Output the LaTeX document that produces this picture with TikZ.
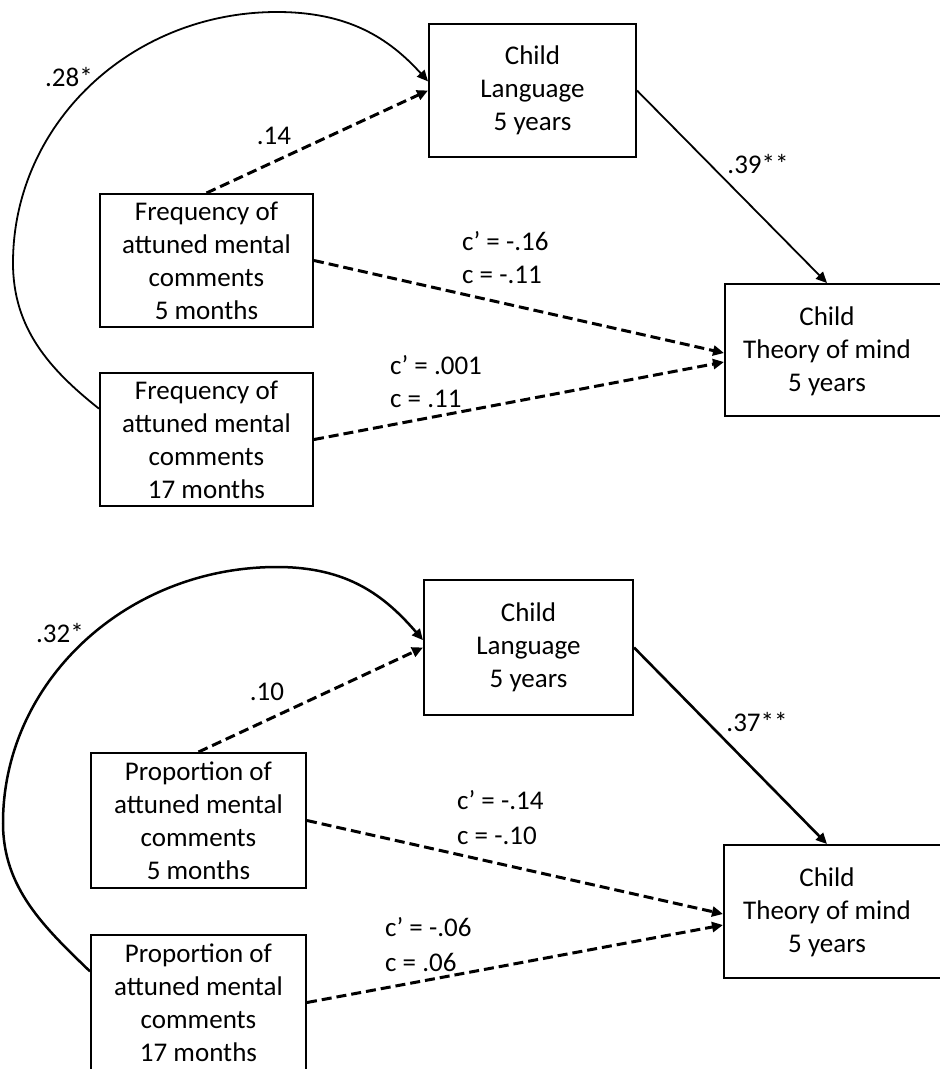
\documentclass[tikz,border=0pt]{standalone}
\usepackage{fontspec}
\setmainfont{Carlito}
\usetikzlibrary{arrows.meta,calc}
\begin{document}
\begin{tikzpicture}[x=1pt,y=-1pt,
  every node/.style={font=\fontsize{27}{33}\selectfont},
  box/.style={draw, line width=2pt, inner sep=0pt, align=center},
  lbl/.style={inner sep=0pt},
  tip/.style={-{Triangle[length=11pt,width=10pt]}},
  dashedarrow/.style={tip, line width=3pt, dash pattern=on 10pt off 5pt},
  solidarrow/.style={tip, line width=1.8pt},
  heavyarrow/.style={tip, line width=2.6pt},
  thincurve/.style={tip, line width=1.8pt},
  heavycurve/.style={tip, line width=2.5pt},
]
\useasboundingbox (0,0) rectangle (940,1069);
\clip (0,0) rectangle (940,1069);

% ---------- upper model: frequency ----------
\node[box, minimum width=207pt, minimum height=133pt] (lang1) at (532.5,90.5) {Child\\Language\\5 years};
\node[box, minimum width=213pt, minimum height=133pt] (f5) at (206.5,260.5) {Frequency of\\attuned mental\\comments\\5 months};
\node[box, minimum width=213pt, minimum height=133pt] (f17) at (206.5,439.5) {Frequency of\\attuned mental\\comments\\17 months};
\node[box, minimum width=300pt, minimum height=132pt, anchor=west] (tom1) at (724,350) {};
\node[lbl, align=center] (tom1txt) at (827,351.5) {Child\\Theory of mind\\5 years};

\draw[thincurve] (f17.164) .. controls (49,369) and (13,328) .. (13,263)
  .. controls (13,124) and (131,12) .. (277,12)
  .. controls (347,12) and (388,37) .. (lang1.175);
\draw[dashedarrow] (f5.north) -- (lang1.west);
\draw[solidarrow] (lang1.east) -- (tom1txt |- tom1.north);
\draw[dashedarrow] (f5.east) -- ($(tom1.west)+(0,3)$);
\draw[dashedarrow] (f17.east) -- ($(tom1.west)+(0,12)$);

\node[lbl] (r1) at (69,77) {.28*};
\node[lbl] (a1) at (274,136) {.14};
\node[lbl] (b1) at (758,164) {.39**};
\node[lbl, align=left, anchor=west] (c1) at (462,258) {c’ = -.16\\c = -.11};
\node[lbl, align=left, anchor=west] (d1) at (390,381.5) {c’ = .001\\c = .11};

% ---------- lower model: proportion ----------
\node[box, minimum width=209pt, minimum height=135pt] (lang2) at (528.5,647.5) {Child\\Language\\5 years};
\node[box, minimum width=215pt, minimum height=135pt] (p5) at (198.5,820.5) {Proportion of\\attuned mental\\comments\\5 months};
\node[box, minimum width=215pt, minimum height=135pt] (p17) at (198.5,1002.5) {Proportion of\\attuned mental\\comments\\17 months};
\node[box, minimum width=300pt, minimum height=133pt, anchor=west] (tom2) at (723,911.5) {};
\node[lbl, align=center] (tom2txt) at (827,912.5) {Child\\Theory of mind\\5 years};

\draw[heavycurve] (p17.164) .. controls (44,927) and (3,888) .. (3,823)
  .. controls (3,682) and (126,567) .. (277,567)
  .. controls (347,567) and (384,595) .. (lang2.176);
\draw[dashedarrow] (p5.north) -- (lang2.west);
\draw[heavyarrow] (lang2.east) -- (tom2txt |- tom2.north);
\draw[dashedarrow] (p5.east) -- ($(tom2.west)+(0,2.5)$);
\draw[dashedarrow] (p17.east) -- ($(tom2.west)+(0,13.5)$);

\node[lbl] (r2) at (60,633) {.32*};
\node[lbl] (a2) at (267,692) {.10};
\node[lbl] (b2) at (757,722) {.37**};
\node[lbl, align=left, anchor=west] (c2) at (457,817.5) {c’ = -.14\\[2pt]c = -.10};
\node[lbl, align=left, anchor=west] (d2) at (385,944.5) {c’ = -.06\\[2pt]c = .06};
\end{tikzpicture}
\end{document}
